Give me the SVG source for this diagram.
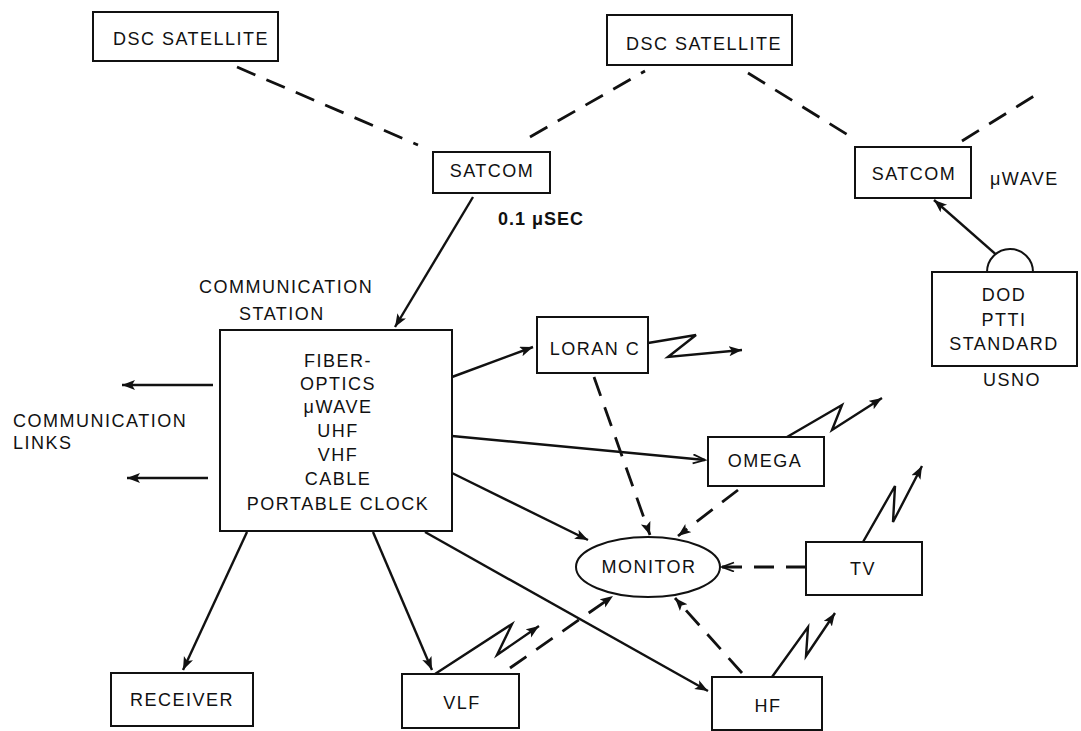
<svg xmlns="http://www.w3.org/2000/svg" width="1081" height="731" viewBox="0 0 1081 731">
<defs>
<style>
.box{fill:#fff;stroke:#111;stroke-width:2}
.t{font-family:"Liberation Sans",Arial,sans-serif;font-size:18px;letter-spacing:1.5px;fill:#111}
.m{text-anchor:middle}
.ln{fill:none;stroke:#111;stroke-width:2.4}
.ds{fill:none;stroke:#111;stroke-width:2.8;stroke-dasharray:20 12}
.ar{marker-end:url(#ah)}
.ao{marker-end:url(#ao)}
</style>
<marker id="ah" markerUnits="userSpaceOnUse" markerWidth="16" markerHeight="12" refX="13" refY="5" orient="auto">
<path d="M0,0 L13,5 L0,10 L3,5 z" fill="#111"/>
</marker>
<marker id="ao" markerUnits="userSpaceOnUse" markerWidth="16" markerHeight="12" refX="13" refY="5" orient="auto">
<path d="M1,0.5 L13,5 L1,9.5" fill="none" stroke="#111" stroke-width="1.8"/>
</marker>
</defs>
<rect width="1081" height="731" fill="#fff"/>

<g id="connectors">
<line class="ds" x1="237" y1="67" x2="418" y2="145"/>
<line class="ds" x1="530" y1="137" x2="645" y2="71"/>
<line class="ds" x1="748" y1="73" x2="848" y2="135"/>
<line class="ds" x1="962" y1="141" x2="1042" y2="91"/>
<line class="ln ar" x1="473" y1="197" x2="395" y2="327"/>
<line class="ln ar" x1="1000" y1="258" x2="934" y2="200"/>
<line class="ln ar" x1="213" y1="385" x2="122" y2="385"/>
<line class="ln ar" x1="208" y1="478" x2="127" y2="478"/>
<line class="ln ar" x1="452" y1="377" x2="533" y2="347"/>
<line class="ln ao" x1="452" y1="436" x2="705" y2="460"/>
<line class="ln ar" x1="452" y1="473" x2="588" y2="540"/>
<line class="ln ar" x1="247" y1="532" x2="183" y2="670"/>
<line class="ln ar" x1="373" y1="532" x2="432" y2="670"/>
<line class="ln ar" x1="425" y1="532" x2="708" y2="691"/>
<polyline class="ln ar" points="648,343 696,335 668,357 742,350"/>
<polyline class="ln ar" points="787,437 842,405 832,430 882,398"/>
<polyline class="ln ar" points="863,542 895,486 893,522 922,466"/>
<polyline class="ln ar" points="435,674 512,624 497,655 539,626"/>
<polyline class="ln ar" points="772,677 808,627 806,656 835,613"/>
<line class="ds ar" x1="594" y1="377" x2="650" y2="535"/>
<line class="ds ar" x1="738" y1="490" x2="678" y2="536"/>
<line class="ds ao" x1="806" y1="567" x2="722" y2="567"/>
<line class="ds ar" x1="742" y1="673" x2="675" y2="598"/>
<line class="ds ar" x1="510" y1="668" x2="613" y2="596"/>
</g>

<g id="dsc1"><rect class="box" x="93" y="12" width="185" height="49"/><text class="t m" x="191" y="45">DSC SATELLITE</text></g>
<g id="dsc2"><rect class="box" x="607" y="15" width="185" height="50"/><text class="t m" x="704" y="50">DSC SATELLITE</text></g>
<g id="satcom1"><rect class="box" x="433" y="152" width="117" height="41"/><text class="t m" x="492" y="177">SATCOM</text></g>
<g id="satcom2"><rect class="box" x="855" y="147" width="116" height="51"/><text class="t m" x="914" y="180">SATCOM</text></g>
<g id="labels">
<text class="t" x="990" y="185">μWAVE</text>
<text class="t" x="498" y="225" style="font-weight:bold;letter-spacing:1px">0.1 μSEC</text>
<text class="t" x="199" y="293">COMMUNICATION</text>
<text class="t" x="239" y="320">STATION</text>
<text class="t" x="13" y="427">COMMUNICATION</text>
<text class="t" x="13" y="449">LINKS</text>
</g>
<g id="dod">
<path class="box" d="M987,272 A23,23 0 0 1 1033,272"/>
<rect class="box" x="932" y="272" width="145" height="94"/>
<text class="t m" x="1004" y="301">DOD</text>
<text class="t m" x="1004" y="326">PTTI</text>
<text class="t m" x="1004" y="350">STANDARD</text>
<text class="t m" x="1012" y="386">USNO</text>
</g>
<g id="station">
<rect class="box" x="220" y="330" width="232" height="201"/>
<text class="t m" x="338" y="367">FIBER-</text>
<text class="t m" x="338" y="390">OPTICS</text>
<text class="t m" x="338" y="413">μWAVE</text>
<text class="t m" x="338" y="437">UHF</text>
<text class="t m" x="338" y="461">VHF</text>
<text class="t m" x="338" y="485">CABLE</text>
<text class="t m" x="338" y="510">PORTABLE CLOCK</text>
</g>
<g id="loran"><rect class="box" x="537" y="317" width="111" height="56"/><text class="t m" x="595" y="355">LORAN C</text></g>
<g id="omega"><rect class="box" x="708" y="437" width="116" height="49"/><text class="t m" x="765" y="467">OMEGA</text></g>
<g id="monitor"><ellipse class="box" cx="648" cy="567" rx="72" ry="30"/><text class="t m" x="649" y="573">MONITOR</text></g>
<g id="tv"><rect class="box" x="806" y="542" width="116" height="53"/><text class="t m" x="863" y="575">TV</text></g>
<g id="receiver"><rect class="box" x="111" y="673" width="142" height="53"/><text class="t m" x="182" y="706">RECEIVER</text></g>
<g id="vlf"><rect class="box" x="402" y="674" width="117" height="54"/><text class="t m" x="462" y="709">VLF</text></g>
<g id="hf"><rect class="box" x="712" y="677" width="110" height="53"/><text class="t m" x="768" y="712">HF</text></g>
</svg>
